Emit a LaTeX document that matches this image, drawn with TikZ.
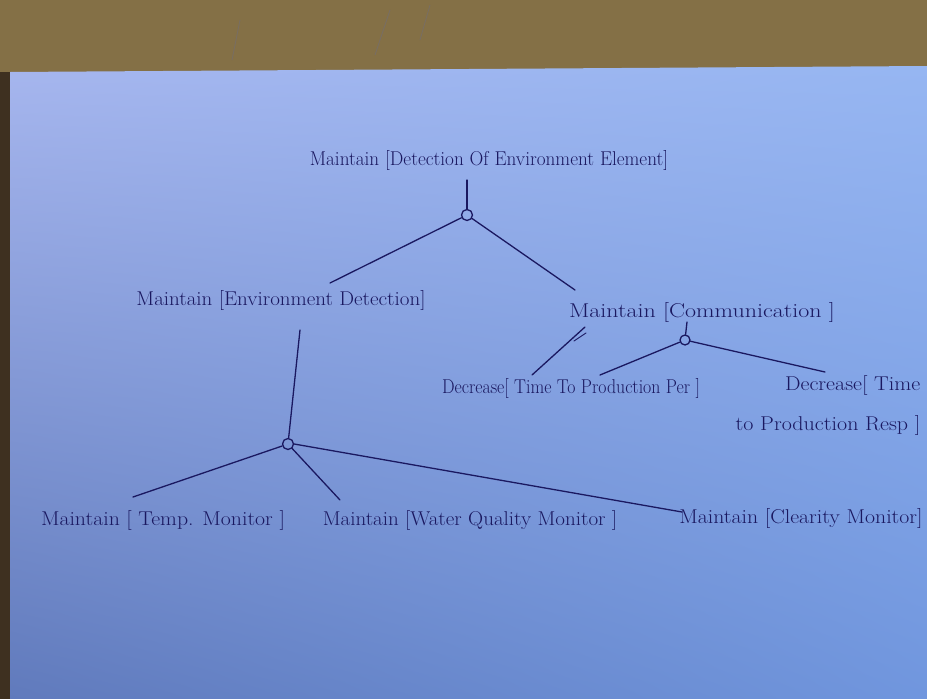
\documentclass[tikz,border=0pt]{standalone}
\usepackage{tikz}
\usepackage{graphicx}
\usetikzlibrary{positioning,calc,shadings}
\definecolor{ink}{RGB}{26,24,96}
\definecolor{wood}{RGB}{132,112,70}
\definecolor{woodDark}{RGB}{62,48,32}
\definecolor{paperUL}{RGB}{166,182,238}
\definecolor{paperUR}{RGB}{150,182,242}
\definecolor{paperLL}{RGB}{96,122,188}
\definecolor{paperLR}{RGB}{112,150,222}
\newcommand{\wide}[2]{\scalebox{#1}[1]{#2}}
\tikzset{
	goal/.style={text=ink,font=\fontsize{20}{20}\selectfont,inner sep=4pt},
	andref/.style={circle,draw=ink,line width=1.3pt,minimum size=11pt,inner sep=0pt},
	link/.style={draw=ink,line width=1.3pt,line cap=round}
}
\begin{document}
\begin{tikzpicture}[x=1pt,y=-1pt]
	\useasboundingbox (0,0) rectangle (927,699);
	
	% table and sheet
	\fill[wood] (0,0) rectangle (927,699);
	\draw[woodDark!70,line width=0.8pt] (240,20)--(232,60);
	\draw[woodDark!70,line width=0.8pt] (390,10)--(375,55);
	\draw[woodDark!70,line width=0.8pt] (430,5)--(420,40);
	\fill[woodDark] (0,72) rectangle (10,699);
	\shade[upper left=paperUL,upper right=paperUR,lower left=paperLL,lower right=paperLR]
		(10,72) -- (927,66) -- (927,699) -- (10,699) -- cycle;
	
	% goals
	\node[goal] (root) at (489,160) {\wide{0.96}{Maintain [Detection Of Environment Element]}};
	\node[goal] (envdet) at (281,300) {\wide{1.05}{Maintain [Environment Detection]}};
	\node[goal] (comm) at (702,312) {\wide{1.2}{Maintain [Communication ]}};
	\node[goal] (per) at (571,388) {\wide{0.89}{Decrease[ Time To Production Per ]}};
	\node[goal,align=right] (resp) at (828,405) {\wide{1.1}{Decrease[ Time}\\[20pt]\wide{1.1}{to Production Resp ]}};
	\node[goal] (temp) at (163,520) {\wide{1.09}{Maintain [ Temp. Monitor ]}};
	\node[goal] (water) at (470,520) {\wide{1.05}{Maintain [Water Quality Monitor ]}};
	\node[goal] (clear) at (801,518) {\wide{1.09}{Maintain [Clearity Monitor]}};
	
	% refinement circles
	\node[andref] (androot) at (467,215) {};
	\node[andref] (andenv) at (288,444) {};
	\node[andref,minimum size=10pt] (andcomm) at (685,340) {};
	
	% top refinement
	\draw[link] ($(root.center -| androot)+(0,20)$) -- (androot);
	\draw[link] (androot) -- ($(envdet)+(49,-17)$);
	\draw[link] (androot) -- ($(comm)+(-127,-22)$);
	
	% environment detection
	\draw[link] ($(envdet)+(19,30)$) -- (andenv);
	\draw[link] (andenv) -- ($(temp)+(-30,-23)$);
	\draw[link] (andenv) -- ($(water)+(-130,-20)$);
	\draw[link] (andenv.east) -- ($(clear)+(-119,-6)$);
	
	% communication
	\draw[link] ($(comm)+(-15,10)$) -- (andcomm);
	\draw[link] (andcomm) -- ($(per)+(29,-13)$);
	\draw[link] (andcomm) -- ($(resp)+(-3,-33)$);
	\draw[link] ($(per)+(-39,-13)$) -- ($(comm)+(-117,15)$);
	\draw[link,line width=0.9pt] ($(comm)+(-128,29)$) -- ($(comm)+(-116,21)$);
\end{tikzpicture}
\end{document}
